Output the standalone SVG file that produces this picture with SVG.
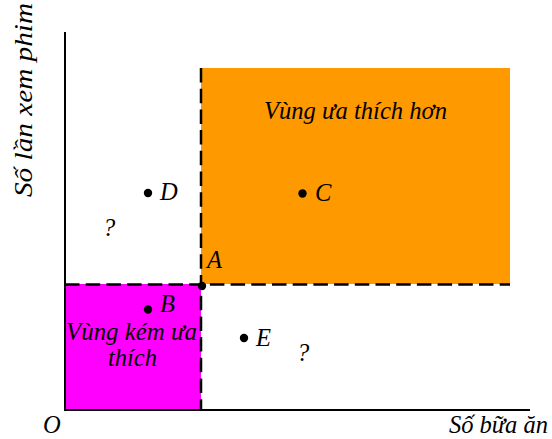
<svg xmlns="http://www.w3.org/2000/svg" width="552" height="439" viewBox="0 0 552 439">
<style>
text{font-family:'Times New Roman','Liberation Serif','DejaVu Serif',serif;font-style:italic;font-size:24.5px;fill:#000}
.dash{stroke:#000;stroke-width:2.5;stroke-dasharray:14.5 6.2;fill:none}
.axis{stroke:#000;stroke-width:2;fill:none}
.pt{fill:#000}
</style>
<g id="regions">
<rect id="preferred" x="201" y="68" width="309" height="216" fill="#FF9900"/>
<rect id="less" x="65" y="284" width="136" height="126" fill="#FF00FF"/>
</g>
<g id="connectors">
<line class="dash" x1="201" y1="68" x2="201" y2="410"/>
<line class="dash" x1="65" y1="284.5" x2="510" y2="284.5"/>
<line class="axis" x1="65" y1="32" x2="65" y2="411"/>
<line class="axis" x1="64" y1="410" x2="530" y2="410"/>
</g>
<g id="labels">
<text x="355.5" y="119" text-anchor="middle" textLength="183" lengthAdjust="spacingAndGlyphs">Vùng ưa thích hơn</text>
<text x="131.5" y="340" text-anchor="middle" textLength="131" lengthAdjust="spacingAndGlyphs">Vùng kém ưa</text>
<text x="132.5" y="366" text-anchor="middle">thích</text>
<text x="43" y="433">O</text>
<text x="548" y="433" text-anchor="end">Số bữa ăn</text>
<text transform="translate(32,100) rotate(-90)" text-anchor="middle" textLength="194" lengthAdjust="spacingAndGlyphs">Số lần xem phim</text>
<text x="103" y="236">?</text>
<text x="297" y="361">?</text>
</g>
<g id="A"><circle class="pt" cx="202" cy="286" r="4.2"/><text x="207" y="268">A</text></g>
<g id="B"><circle class="pt" cx="148" cy="309.5" r="4.2"/><text x="160" y="312">B</text></g>
<g id="C"><circle class="pt" cx="302.5" cy="193.5" r="4.2"/><text x="315" y="201">C</text></g>
<g id="D"><circle class="pt" cx="148" cy="193" r="4.2"/><text x="160" y="200">D</text></g>
<g id="E"><circle class="pt" cx="244" cy="338" r="4.2"/><text x="256" y="346">E</text></g>
</svg>
